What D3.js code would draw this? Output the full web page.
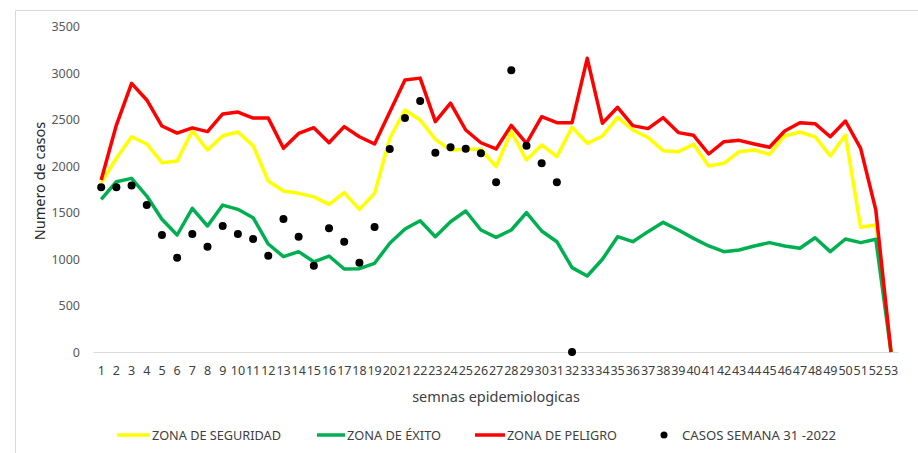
<!DOCTYPE html>
<html><head><meta charset="utf-8">
<script src="https://cdn.jsdelivr.net/npm/d3@7"></script>
<style>body{margin:0;background:#fff;}svg{display:block;font-family:"Noto Sans",sans-serif;}</style>
</head><body><svg id="c" width="918" height="453"></svg>
<script>
const weeks = d3.range(1, 54).map(String);
const yTicks = [0, 500, 1000, 1500, 2000, 2500, 3000, 3500];
const seguridad = [1820,2083,2315,2237,2036,2054,2380,2172,2326,2366,2219,1839,1731,1706,1668,1588,1713,1534,1706,2298,2602,2495,2287,2172,2180,2180,1993,2370,2065,2226,2100,2416,2244,2323,2523,2387,2308,2165,2154,2233,2000,2029,2154,2172,2126,2323,2366,2315,2108,2333,1341,1366,0];
const exito = [1640,1831,1867,1677,1427,1258,1545,1355,1580,1534,1444,1161,1025,1079,970,1032,892,896,954,1169,1322,1412,1240,1401,1516,1312,1233,1312,1498,1301,1186,907,817,997,1240,1186,1294,1394,1312,1222,1140,1079,1097,1140,1176,1140,1115,1229,1079,1215,1176,1212,0];
const peligro = [1850,2440,2889,2710,2430,2354,2410,2370,2560,2580,2515,2515,2190,2350,2412,2250,2423,2315,2237,2580,2925,2945,2477,2675,2387,2250,2183,2437,2244,2530,2466,2466,3158,2459,2631,2434,2402,2520,2359,2330,2129,2262,2276,2237,2201,2376,2466,2455,2315,2484,2190,1527,0];
const casos = [1771,1771,1789,1580,1258,1014,1269,1133,1355,1269,1215,1036,1430,1240,928,1330,1186,960,1344,2183,2516,2699,2143,2201,2186,2136,1824,3029,2219,2029,1824,0];
const seriesNames = ["ZONA DE SEGURIDAD","ZONA DE ÉXITO","ZONA DE PELIGRO","CASOS SEMANA 31 -2022"];
const colors = ["#FFFF00","#00B050","#FF0000","#000000"];

const svg = d3.select("#c");
svg.append("path").attr("d","M15.5,453 L15.5,10.5 L918,10.5").attr("fill","none").attr("stroke","#d9d9d9").attr("stroke-width",1);

const x = d3.scaleBand().domain(weeks).range([93.6, 898.6]);
const y = d3.scaleLinear().domain([0, 3500]).range([352, 26.5]);
const cx = d => x(d) + x.bandwidth()/2;

svg.append("line").attr("x1",93.6).attr("x2",898.6).attr("y1",y(0)+0.5).attr("y2",y(0)+0.5).attr("stroke","#d9d9d9");

const ya = svg.append("g").attr("transform","translate(80,0)").call(d3.axisLeft(y).tickValues(yTicks).tickSize(0).tickPadding(0).tickFormat(d3.format("d")));
ya.select(".domain").remove();
ya.selectAll("text").attr("font-size",12.5).attr("fill","#595959").attr("font-family","Noto Sans");

const xa = svg.append("g").attr("transform",`translate(0,${y(0)})`).call(d3.axisBottom(x).tickSize(0).tickPadding(14));
xa.select(".domain").remove();
xa.selectAll("text").attr("font-size",12.5).attr("fill","#404040").attr("font-family","Noto Sans").attr("letter-spacing","-0.1px");

svg.append("text").attr("x",496).attr("y",402).attr("text-anchor","middle").attr("font-size",14.5).attr("fill","#404040").text("semnas epidemiologicas");
svg.append("text").attr("transform","translate(45,181) rotate(-90)").attr("text-anchor","middle").attr("font-size",14.5).attr("fill","#262626").text("Numero de casos");

const line = d3.line().x((d,i)=>cx(weeks[i])).y(d=>y(d));
[[seguridad,colors[0]],[exito,colors[1]],[peligro,colors[2]]].forEach(([data,c])=>{
  svg.append("path").datum(data).attr("d",line).attr("fill","none").attr("stroke",c).attr("stroke-width",3.5).attr("stroke-linejoin","round");
});

svg.append("g").selectAll("circle").data(casos).join("circle")
  .attr("cx",(d,i)=>cx(weeks[i])).attr("cy",d=>y(d)).attr("r",4).attr("fill","#000");

const leg = [
  {t:seriesNames[0], c:colors[0], x1:117, x2:150, tx:152, tl:129},
  {t:seriesNames[1], c:colors[1], x1:317, x2:345, tx:347, tl:94},
  {t:seriesNames[2], c:colors[2], x1:475, x2:505, tx:507, tl:110},
  {t:seriesNames[3], c:colors[3], dot:664, tx:682, tl:154}
];
const ly = 435;
leg.forEach(l=>{
  if (l.dot) svg.append("circle").attr("cx",l.dot).attr("cy",ly).attr("r",3.5).attr("fill",l.c);
  else svg.append("line").attr("x1",l.x1).attr("x2",l.x2).attr("y1",ly).attr("y2",ly).attr("stroke",l.c).attr("stroke-width",3.5);
  svg.append("text").attr("x",l.tx).attr("y",ly+4.5).attr("font-size",12.5).attr("fill","#404040")
    .attr("textLength",l.tl).attr("lengthAdjust","spacingAndGlyphs").text(l.t);
});
</script></body></html>
